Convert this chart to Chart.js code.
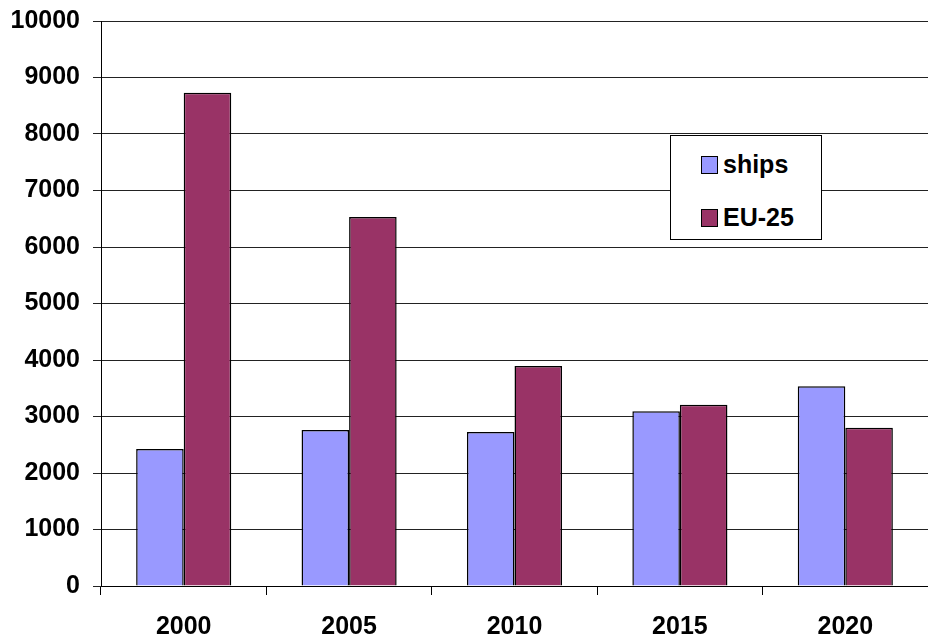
<!DOCTYPE html>
<html>
<head>
<meta charset="utf-8">
<script src="https://cdn.jsdelivr.net/npm/chart.js@4"></script>
<style>
  html, body { margin: 0; padding: 0; background: #fff; }
  #wrap { position: relative; width: 928px; height: 638px; overflow: hidden; }
  #legend {
    position: absolute; left: 670px; top: 135px; width: 150px; height: 103px;
    border: 1px solid #000; background: #fff;
    font-family: "Liberation Sans", Arial, sans-serif; font-weight: bold; font-size: 25px; color: #000;
  }
  .item { position: absolute; left: 30px; height: 28px; line-height: 28px; white-space: nowrap; }
  .sw { display: inline-block; width: 15px; height: 16px; border: 1px solid #000; vertical-align: -1px; margin-right: 5px; }
</style>
</head>
<body>
<div id="wrap">
  <canvas id="c" width="928" height="638"></canvas>
  <div id="legend">
    <div class="item" style="top:14px"><span class="sw" style="background:#9999FF"></span>ships</div>
    <div class="item" style="top:67px"><span class="sw" style="background:#993366"></span>EU-25</div>
  </div>
</div>
<script>
const categories = ["2000", "2005", "2010", "2015", "2020"];
const shipsValues = [2425, 2760, 2725, 3095, 3535];
const eu25Values = [8730, 6530, 3895, 3210, 2800];
const yTicks = [0, 1000, 2000, 3000, 4000, 5000, 6000, 7000, 8000, 9000, 10000];

const font = { family: "'Liberation Sans', Arial, sans-serif", size: 25, weight: 'bold' };

new Chart(document.getElementById('c'), {
  type: 'bar',
  data: {
    labels: categories,
    datasets: [
      { label: 'ships', data: shipsValues, backgroundColor: '#9999FF', borderColor: '#000', borderWidth: 1.5 },
      { label: 'EU-25', data: eu25Values, backgroundColor: '#993366', borderColor: '#000', borderWidth: 1.5 }
    ]
  },
  options: {
    responsive: false,
    animation: false,
    devicePixelRatio: 1,
    layout: { padding: { top: 21, right: -3, left: 0, bottom: 0 } },
    plugins: { legend: { display: false }, tooltip: { enabled: false } },
    datasets: { bar: { categoryPercentage: 0.575, barPercentage: 1.0 } },
    scales: {
      x: {
        grid: { offset: true, drawOnChartArea: false, drawTicks: true, tickLength: 9, color: '#000' },
        border: { color: '#000', width: 1 },
        ticks: { color: '#000', font: font, padding: 17, maxRotation: 0 },
        afterFit: s => { s.height = 52; s.paddingLeft = 0; s.paddingRight = 0; }
      },
      y: {
        min: 0, max: 10000,
        afterBuildTicks: s => { s.ticks = yTicks.map(v => ({ value: v })); },
        grid: { color: '#222', lineWidth: 1, drawTicks: true, tickLength: 8 },
        border: { color: '#000', width: 1 },
        ticks: { color: '#000', font: font, padding: 13, callback: v => String(v) },
        afterFit: s => { s.width = 101; s.paddingTop = 0; s.paddingBottom = 0; }
      }
    }
  }
});
</script>
</body>
</html>
